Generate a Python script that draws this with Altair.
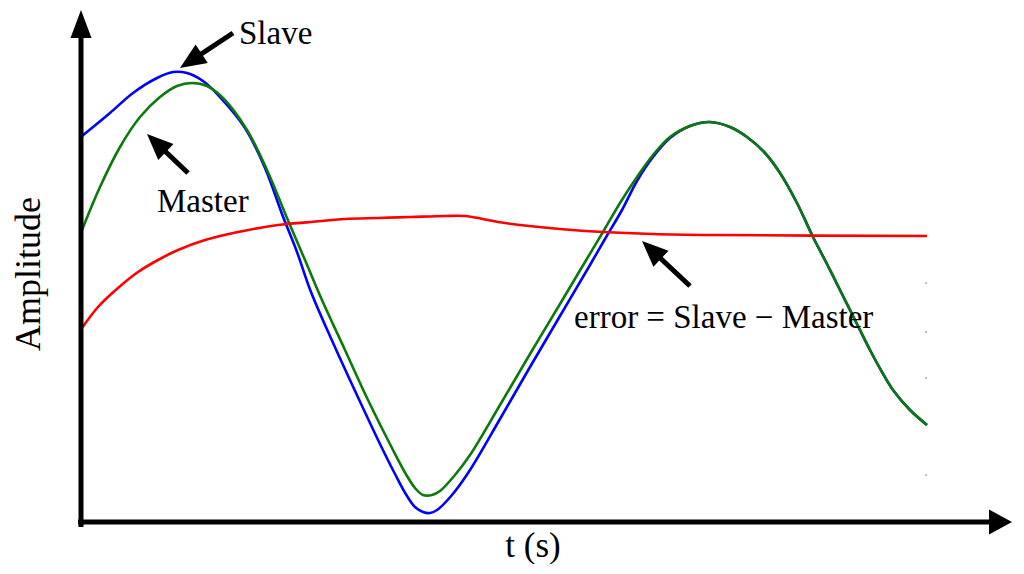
import math
import altair as alt
import pandas as pd

# ---- data (t in s, amplitude in arbitrary units) ----
master_t = [0.00, 0.18, 0.38, 0.58, 0.78, 0.95, 1.10, 1.25, 1.41, 1.65, 1.85, 2.05, 2.23, 2.40,
            2.63, 2.86, 3.11, 3.25, 3.33, 3.41, 3.50, 3.58, 3.73, 3.88, 4.18, 4.48, 4.78, 5.03,
            5.21, 5.38, 5.55, 5.71, 5.88, 6.08, 6.28, 6.48, 6.65, 6.83, 6.98, 7.15, 7.31, 7.45,
            7.58, 7.73, 7.88, 8.00, 8.11, 8.28, 8.45]
master_a = [2.92, 3.35, 3.75, 4.05, 4.25, 4.36, 4.39, 4.36, 4.24, 3.92, 3.52, 3.04, 2.62, 2.22,
            1.72, 1.22, 0.72, 0.46, 0.34, 0.27, 0.27, 0.31, 0.47, 0.67, 1.17, 1.68, 2.18, 2.60,
            2.90, 3.19, 3.45, 3.67, 3.85, 3.96, 4.00, 3.95, 3.85, 3.69, 3.49, 3.19, 2.85, 2.58,
            2.32, 2.02, 1.72, 1.50, 1.32, 1.12, 0.97]

slave_t = [0.00, 0.28, 0.51, 0.75, 0.91, 1.05, 1.21, 1.38, 1.63, 1.83, 2.00, 2.15, 2.29, 2.52,
           2.74, 2.98, 3.13, 3.25, 3.33, 3.41, 3.48, 3.55, 3.70, 3.88, 4.18, 4.48, 4.78, 5.08,
           5.23, 5.40, 5.55, 5.71, 5.88, 6.08, 6.28, 6.48, 6.65, 6.83, 6.98, 7.15, 7.31, 7.45,
           7.58, 7.73, 7.88, 8.00, 8.11, 8.28, 8.45]
slave_a = [3.86, 4.09, 4.29, 4.44, 4.50, 4.49, 4.41, 4.25, 3.94, 3.54, 3.08, 2.70, 2.30, 1.77,
           1.29, 0.78, 0.48, 0.26, 0.15, 0.10, 0.09, 0.12, 0.27, 0.52, 1.03, 1.55, 2.06, 2.57,
           2.83, 3.12, 3.41, 3.65, 3.84, 3.96, 4.00, 3.95, 3.85, 3.69, 3.49, 3.19, 2.85, 2.58,
           2.32, 2.02, 1.72, 1.50, 1.32, 1.12, 0.97]

error_t = [0.00, 0.16, 0.36, 0.56, 0.76, 0.96, 1.23, 1.56, 1.96, 2.29, 2.63, 2.96, 3.29, 3.63,
           3.83, 3.96, 4.16, 4.38, 4.78, 5.21, 5.71, 6.31, 8.45]
error_a = [1.94, 2.15, 2.34, 2.50, 2.62, 2.72, 2.82, 2.90, 2.97, 3.00, 3.03, 3.04, 3.05, 3.06,
           3.06, 3.04, 3.00, 2.97, 2.93, 2.90, 2.88, 2.87, 2.86]

# annotations
label_text = ["Slave", "Master", "error = Slave \u2212 Master"]
label_t = [1.57, 0.75, 4.92]
label_a = [4.78, 3.10, 1.94]

arrow_tail_t = [1.51, 1.06, 6.08]
arrow_tail_a = [4.89, 3.49, 2.36]
arrow_tip_t = [0.98, 0.65, 5.60]
arrow_tip_a = [4.54, 3.88, 2.81]

# axes (drawn as arrows)
axis_tail_t = [-0.04, -0.01]
axis_tail_a = [0.00, -0.05]
axis_tip_t = [9.30, -0.01]
axis_tip_a = [0.00, 5.12]

dot_t = [8.44, 8.44, 8.44, 8.44]
dot_a = [2.39, 1.90, 1.44, 0.47]

X_DOMAIN = [-0.74, 9.32]
Y_DOMAIN = [-0.42, 5.14]
W, H = 1006, 556
PX = W / (X_DOMAIN[1] - X_DOMAIN[0])  # pixels per data unit (same both ways)

xs = alt.Scale(domain=X_DOMAIN, nice=False, zero=False)
ys = alt.Scale(domain=Y_DOMAIN, nice=False, zero=False)
FONT = "Liberation Serif"


def arrow_rows(tails_t, tails_a, tips_t, tips_a, half_len_px, shape, size):
    shafts, heads = [], []
    for tt, ta, pt, pa in zip(tails_t, tails_a, tips_t, tips_a):
        dx = pt - tt
        dy_screen = -(pa - ta)
        L = math.hypot(dx, dy_screen)
        ux, uy = dx / L, dy_screen / L
        ang = math.degrees(math.atan2(ux, -uy)) % 360
        off = half_len_px / PX
        ct = pt - ux * off
        ca = pa + uy * off
        shafts.append({"t": tt, "a": ta, "t2": ct, "a2": ca})
        heads.append({"t": ct, "a": ca, "angle": ang, "shape": shape, "size": size})
    return shafts, heads


s1, h1 = arrow_rows(arrow_tail_t, arrow_tail_a, arrow_tip_t, arrow_tip_a, 13,
                    "M0,-1L-0.85,1L0.85,1Z", 676)
sx, hx = arrow_rows(axis_tail_t[:1], axis_tail_a[:1], axis_tip_t[:1], axis_tip_a[:1], 11.5,
                    "M0,-0.92L-1,0.92L1,0.92Z", 625)
sy, hy = arrow_rows(axis_tail_t[1:], axis_tail_a[1:], axis_tip_t[1:], axis_tip_a[1:], 14,
                    "M0,-1L-0.75,1L0.75,1Z", 784)

shaft_df = pd.DataFrame(s1)
axis_df = pd.DataFrame(sx + sy)
head_df = pd.DataFrame(h1 + hx + hy)

master_df = pd.DataFrame({"t": master_t, "a": master_a})
slave_df = pd.DataFrame({"t": slave_t, "a": slave_a})
error_df = pd.DataFrame({"t": error_t, "a": error_a})
label_df = pd.DataFrame({"t": label_t, "a": label_a, "text": label_text})
dot_df = pd.DataFrame({"t": dot_t, "a": dot_a})
ytitle_df = pd.DataFrame({"t": [-0.42], "a": [2.48], "text": ["Amplitude"]})
xtitle_df = pd.DataFrame({"t": [4.51], "a": [-0.35], "text": ["t (s)"]})

X = alt.X("t:Q", scale=xs, axis=None)
Y = alt.Y("a:Q", scale=ys, axis=None)


def line(df, color):
    return alt.Chart(df).mark_line(interpolate="catmull-rom", strokeWidth=2.6, color=color,
                                   clip=False).encode(x=X, y=Y)


slave_line = line(slave_df, "#0000ff")
master_line = line(master_df, "#0b7a0b")
error_line = line(error_df, "#ff0000")

axis_lines = alt.Chart(axis_df).mark_rule(strokeWidth=5, color="black", strokeCap="butt").encode(
    x=X, y=Y, x2="t2:Q", y2="a2:Q")
shafts = alt.Chart(shaft_df).mark_rule(strokeWidth=5, color="black", strokeCap="butt").encode(
    x=X, y=Y, x2="t2:Q", y2="a2:Q")
heads = alt.Chart(head_df).mark_point(filled=True, opacity=1, color="black", strokeWidth=0,
                                      clip=False).encode(
    x=X, y=Y,
    angle=alt.Angle("angle:Q", scale=None),
    shape=alt.Shape("shape:N", scale=None),
    size=alt.Size("size:Q", scale=None))

dots = alt.Chart(dot_df).mark_square(size=3, color="#9a9a9a", opacity=1).encode(x=X, y=Y)

labels = alt.Chart(label_df).mark_text(font=FONT, fontSize=33, align="left",
                                       baseline="alphabetic", color="black").encode(
    x=X, y=Y, text="text:N")
ytitle = alt.Chart(ytitle_df).mark_text(font=FONT, fontSize=36, align="center",
                                        baseline="alphabetic", angle=270, color="black").encode(
    x=X, y=Y, text="text:N")
xtitle = alt.Chart(xtitle_df).mark_text(font=FONT, fontSize=35, align="center",
                                        baseline="alphabetic", color="black").encode(
    x=X, y=Y, text="text:N")

chart = alt.layer(
    dots, slave_line, master_line, error_line, axis_lines, shafts, heads, labels, ytitle, xtitle
).properties(
    width=W, height=H, autosize=alt.AutoSizeParams(type="none"), padding=0,
    background="white"
).configure_view(stroke=None)

chart.save("out.html", embed_options={"renderer": "svg", "actions": False})
